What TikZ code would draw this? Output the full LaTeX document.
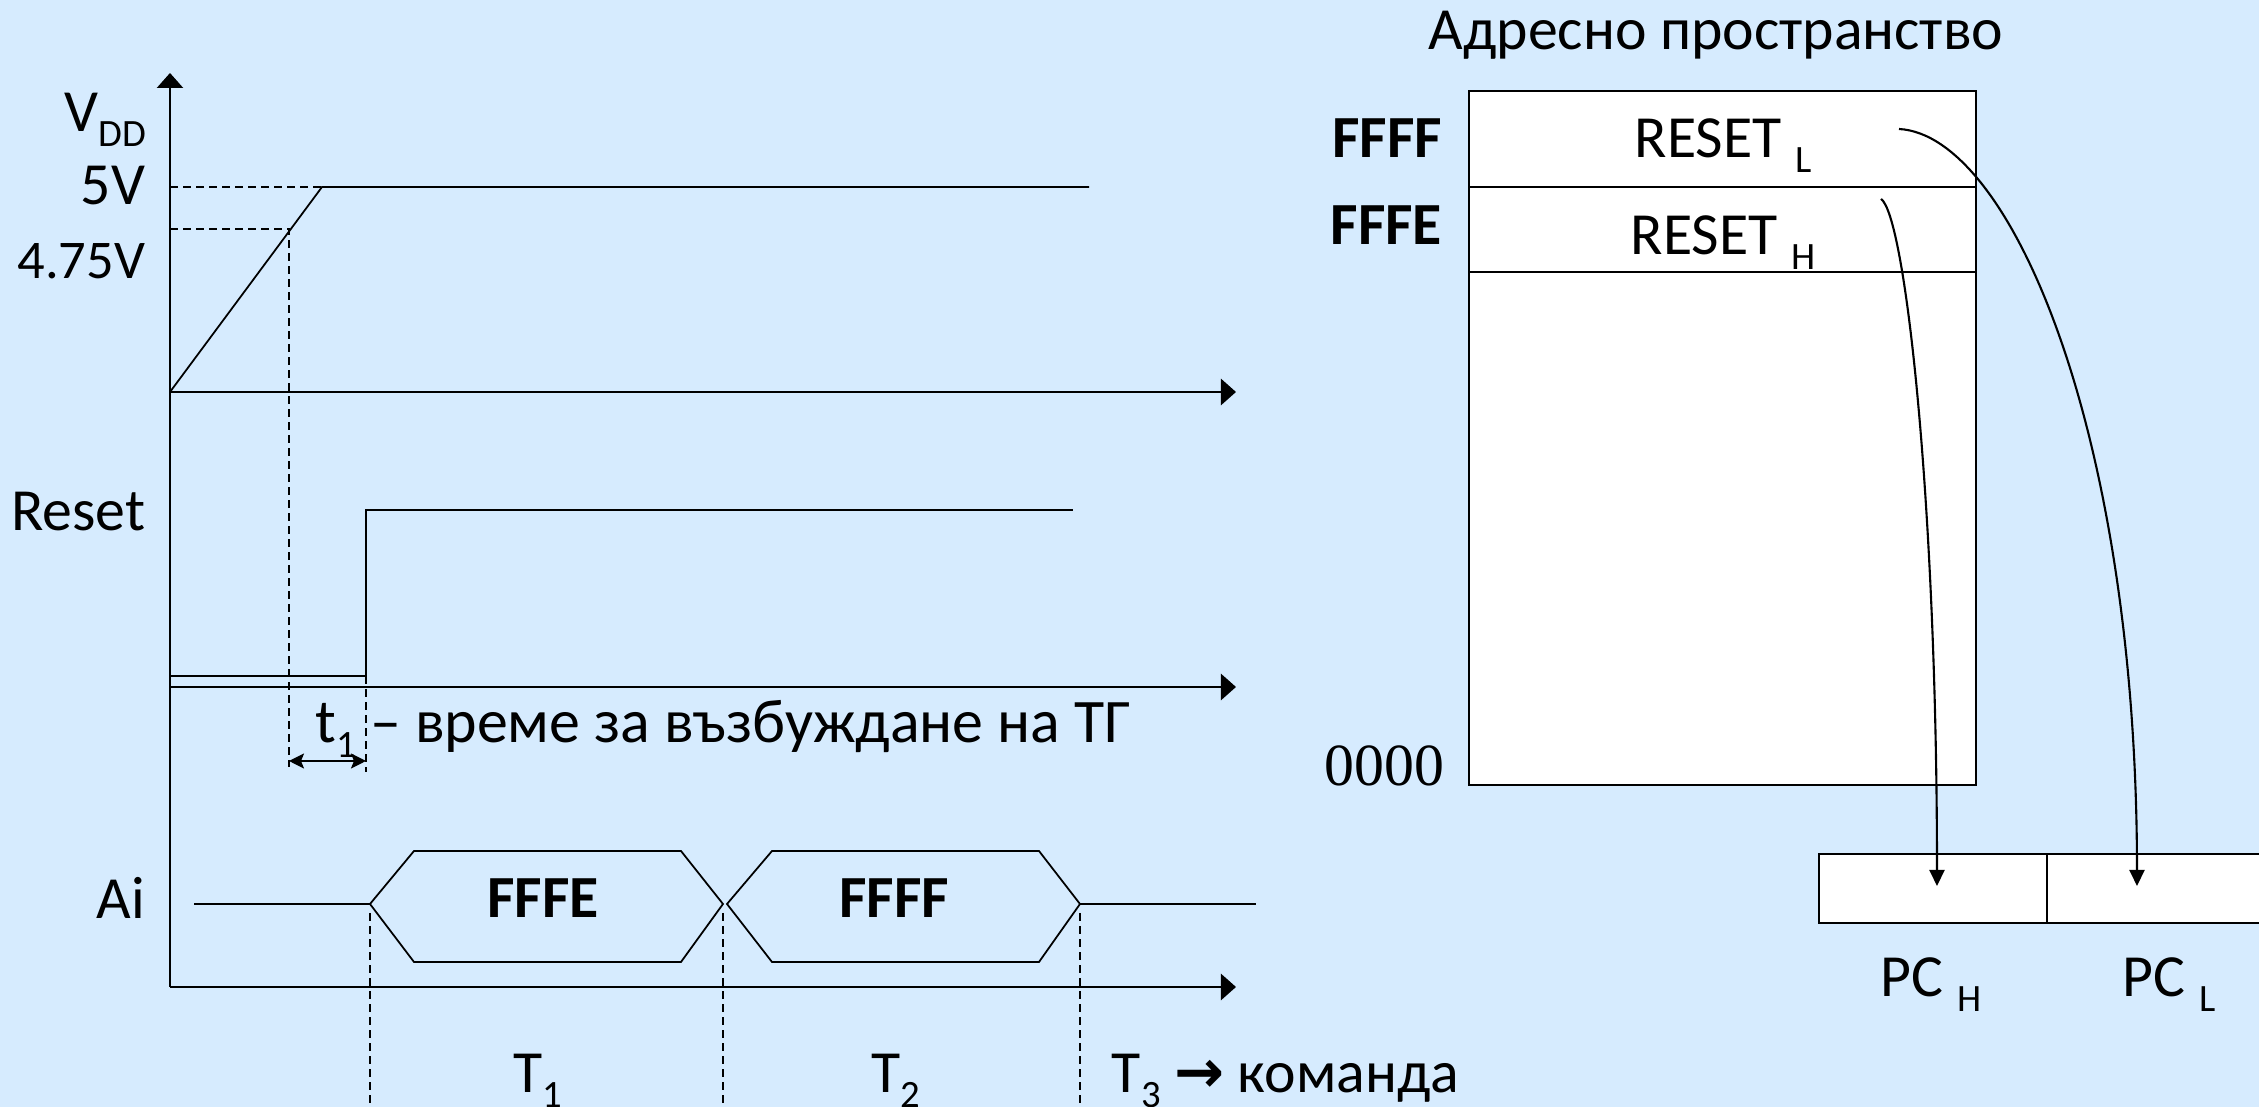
\documentclass[tikz,border=0pt]{standalone}
\usepackage{fontspec}
\setmainfont{Carlito}
\newfontfamily\serifdigits{Liberation Serif}
\newfontfamily\arrowglyph{DejaVu Sans}
\usetikzlibrary{arrows.meta}
\definecolor{slidebg}{RGB}{214,235,254}
\newcommand\lowidx[1]{\raisebox{-4pt}{\fontsize{11}{11}\selectfont #1}}

\begin{document}
\begin{tikzpicture}[x=0.01cm,y=-0.01cm,line width=0.5pt,
                    >={Triangle[width=0.26cm,length=0.15cm]},
                    axis/.style={->,line width=0.7pt},
                    guide/.style={dash pattern=on 0.08cm off 0.05cm,line width=0.4pt},
                    lbl/.style={inner sep=0pt,font=\fontsize{17}{20}\selectfont},
                    bold/.style={inner sep=0pt,font=\fontsize{17}{20}\selectfont\bfseries},
                    cell/.style={draw,fill=white,line width=0.6pt,inner sep=0pt,minimum width=5.07cm},
                    reg/.style={draw,fill=white,line width=0.6pt,inner sep=0pt,minimum width=2.28cm,minimum height=0.69cm},
                    fetch/.style={->,>={Triangle[width=0.15cm,length=0.16cm]},line width=0.6pt}]
   \path[use as bounding box,fill=slidebg] (0,0) rectangle (2259,1107);

   \coordinate (o)     at (170,987);
   \coordinate (vzero) at (170,392);
   \coordinate (vtop)  at (322,187);
   \coordinate (v475)  at (289,229);
   \coordinate (rzero) at (170,687);
   \coordinate (rise)  at (366,676);

   \draw[axis] (o) -- (170,73);
   \draw[axis] (vzero) -- (1236,392);
   \draw[axis] (rzero) -- (1236,687);
   \draw[axis] (o) -- (1236,987);

   \node[lbl,anchor=base east] (vdd)   at (147,132) {V\lowidx{DD}};
   \node[lbl,anchor=base east] (fivev) at (146,205) {5V};
   \node[lbl,anchor=base east,font=\fontsize{15.5}{18}\selectfont] (lowv) at (146,279) {4.75V};
   \node[lbl,anchor=base east] (rst)   at (146,531) {Reset};
   \node[lbl,anchor=base east] (ai)    at (146,919) {Ai};

   \draw (vzero) -- (vtop) -- (1089,187);
   \draw[guide] (170,187) -- (vtop);
   \draw[guide] (170,229) -- (v475) -- (289,767);

   \draw (170,676) -- (rise) -- (366,510) -- (1073,510);
   \draw[guide] (rise) -- (366,772);
   \draw[<->,>={Stealth[width=0.15cm,length=0.15cm,inset=0.03cm]}] (289,761) -- (366,761);
   \node[lbl,anchor=base west,font=\fontsize{17.6}{20}\selectfont] (tone) at (315,743) {t\lowidx{1} – време за възбуждане на ТГ};

   \draw (194,904) -- (370,904);
   \draw (370,904) -- (414,851) -- (681,851) -- (723,904)
         -- (681,962) -- (414,962) -- cycle;
   \draw (727,904) -- (772,851) -- (1039,851) -- (1080,904)
         -- (1039,962) -- (772,962) -- cycle;
   \draw (1080,904) -- (1256,904);
   \node[bold,anchor=base] (busfe) at (543,918) {FFFE};
   \node[bold,anchor=base] (busff) at (894,918) {FFFF};

   \foreach \tx in {370,723,1080}
      \draw[guide] (\tx,913) -- (\tx,1107);
   \node[lbl,anchor=base] (cyc1) at (538,1093) {T\lowidx{1}};
   \node[lbl,anchor=base] (cyc2) at (896,1093) {T\lowidx{2}};
   \node[lbl,anchor=base west] (cyc3) at (1111,1093) {T\lowidx{3} {\arrowglyph\bfseries →} команда};

   \node[lbl,anchor=base] (title) at (1716,50) {Адресно пространство};
   \node[cell,minimum height=0.96cm] (rowL)    at (1722.5,139) {};
   \node[cell,minimum height=0.85cm] (rowH)    at (1722.5,229.5) {};
   \node[cell,minimum height=5.13cm] (rowRest) at (1722.5,528.5) {};
   \node[lbl,anchor=base] (resetL) at (1723,158) {RESET \lowidx{L}};
   \node[lbl,anchor=base] (resetH) at (1723,255) {RESET \lowidx{H}};
   \node[bold,anchor=base east] (addrF) at (1443,158) {FFFF};
   \node[bold,anchor=base east] (addrE) at (1443,245) {FFFE};
   \node[lbl,anchor=base east,font=\fontsize{17}{20}\selectfont\serifdigits] (addr0) at (1445,786) {0000};

   \node[reg] (pch) at (1933,888.5) {};
   \node[reg] (pcl) at (2161,888.5) {};
   \node[lbl,anchor=base] (pchlbl) at (1931,997) {PC \lowidx{H}};
   \node[lbl,anchor=base] (pcllbl) at (2169,997) {PC \lowidx{L}};

   \coordinate (lowsrc)  at (1899,129);
   \coordinate (highsrc) at (1881,199);
   \coordinate (pclin)   at (2137,886);
   \coordinate (pchin)   at (1937,886);
   \draw[fetch] (lowsrc) .. controls +(111,6) and +(0,-456) .. (pclin);
   \draw[fetch] (highsrc) .. controls +(24,16) and +(0,-386) .. (pchin);
\end{tikzpicture}
\end{document}
